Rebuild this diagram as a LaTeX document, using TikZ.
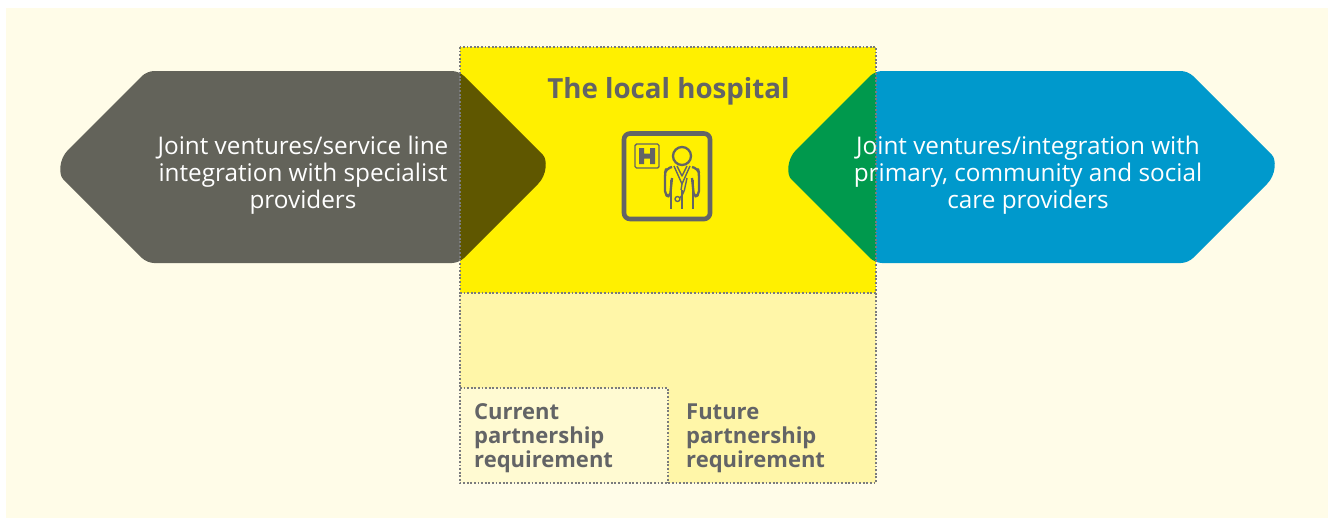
\documentclass[tikz,border=0pt]{standalone}
\usepackage{fontspec}
\setmainfont{Open Sans}
\definecolor{pagebg}{HTML}{FFFCE8}
\definecolor{hospyellow}{HTML}{FFF000}
\definecolor{paleyellow}{HTML}{FFF6A8}
\definecolor{currentbg}{HTML}{FFFAD2}
\definecolor{arrowgrey}{HTML}{63635A}
\definecolor{arrowblue}{HTML}{0099CC}
\definecolor{overolive}{HTML}{5F5700}
\definecolor{overgreen}{HTML}{00994D}
\definecolor{inkgrey}{HTML}{636466}
\tikzset{
  x=1pt,y=-1pt,
  dotline/.style={draw=inkgrey!85,line width=1.2pt,dash pattern=on 1.8pt off 1.8pt},
  arrowtext/.style={text=white,align=center,font=\fontsize{24.3}{27}\selectfont,inner sep=0pt},
  smalltext/.style={text=inkgrey,align=left,anchor=north west,font=\fontsize{22}{24}\selectfont\bfseries,inner sep=0pt},
  icon/.style={draw=inkgrey,line width=2.3pt,line join=round},
  thinicon/.style={draw=inkgrey,line width=1.4pt,line join=round},
}
\begin{document}
\begin{tikzpicture}
\useasboundingbox (0,0) rectangle (1328,520);
\fill[white] (0,0) rectangle (1328,520);
\fill[pagebg] (6,8) rectangle (1328,518);
% panels
\fill[paleyellow] (460,293) rectangle (876,483);
\fill[currentbg] (460,388) rectangle (668,483);
\fill[hospyellow] (460,47) rectangle (876,293);
% left and right arrows
\def\leftarrowshape{(68,150) [rounded corners=7pt] -- (147,71) -- (459,71) -- (538,150) [sharp corners] .. controls (547.3,159.3) and (547.3,174.7) .. (538,184) [rounded corners=7pt] -- (459,263) -- (147,263) -- (68,184) [sharp corners] .. controls (58.7,174.7) and (58.7,159.3) .. (68,150) -- cycle}
\def\rightarrowshape{(796,150) [rounded corners=7pt] -- (875,71) -- (1188,71) -- (1267,150) [sharp corners] .. controls (1276.3,159.3) and (1276.3,174.7) .. (1267,184) [rounded corners=7pt] -- (1188,263) -- (875,263) -- (796,184) [sharp corners] .. controls (786.7,174.7) and (786.7,159.3) .. (796,150) -- cycle}
\begin{scope}
  \clip (0,0) rectangle (460,520);
  \fill[arrowgrey] \leftarrowshape;
\end{scope}
\begin{scope}
  \clip (460,0) rectangle (876,520);
  \fill[overolive] \leftarrowshape;
  \fill[overgreen] \rightarrowshape;
\end{scope}
\begin{scope}
  \clip (876,0) rectangle (1328,520);
  \fill[arrowblue] \rightarrowshape;
\end{scope}
% dotted borders, each stretch drawn once
\draw[dotline] (460,47) rectangle (876,483);
\draw[dotline] (460,293) -- (876,293);
\draw[dotline] (460,388) -- (668,388) -- (668,483);
% texts
\node[text=inkgrey,font=\fontsize{27.7}{32}\selectfont\bfseries,inner sep=0pt] (title) at (668.5,91) {The local hospital};
\node[arrowtext] (lefttext) at (303,175.5) {Joint ventures/service line\\integration with specialist\\providers};
\node[arrowtext] (righttext) at (1028,175.5) {Joint ventures/integration with\\primary, community and social\\care providers};
\node[smalltext] (current) at (474,403.5) {Current\\partnership\\requirement};
\node[smalltext] (future) at (686,403.5) {Future\\partnership\\requirement};
% icon
\draw[icon,line width=4.6pt,rounded corners=6pt] (624,133.5) rectangle (710,219);
\draw[thinicon,rounded corners=1.5pt] (635,144) rectangle (659,168);
\fill[inkgrey] (639,148) rectangle (644,164) (650,148) rectangle (655,164) (644,153.5) rectangle (650,158.5);
\draw[icon] (682,156) circle (9);
\draw[icon,rounded corners=4pt] (672,167) -- (666,169) -- (665,173) -- (665,195) -- (670,197) -- (672,178);
\draw[icon,rounded corners=4pt] (692,167) -- (698,169) -- (699,173) -- (699,195) -- (694,197) -- (692,178);
\draw[icon] (671,180) -- (671,209) (693,180) -- (693,209) (682,190) -- (682,209);
\draw[thinicon] (674,166) -- (682,184) -- (690,166);
\draw[thinicon] (677,166) -- (682,176) -- (687,166);
\draw[thinicon] (682,184) -- (681,190);
\draw[thinicon,rounded corners=2pt] (687,178) -- (684,192) -- (680,198);
\draw[thinicon] (677.5,199) circle (2.5);
\end{tikzpicture}
\end{document}
